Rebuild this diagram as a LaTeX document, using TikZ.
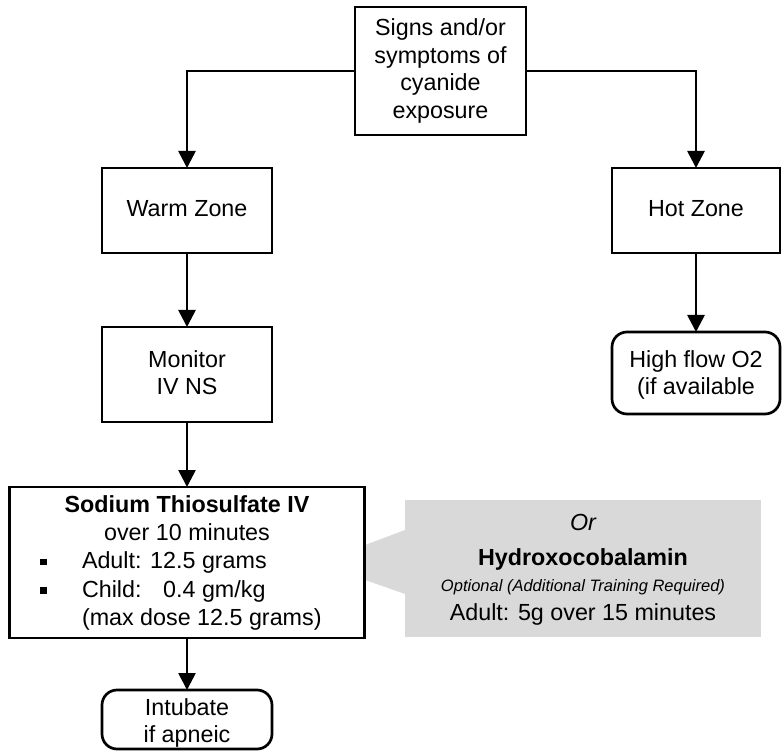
\documentclass[tikz,border=0pt]{standalone}
\usepackage{fontspec}
\setmainfont{Liberation Sans}
\usetikzlibrary{arrows.meta}
\definecolor{calloutgray}{RGB}{217,217,217}
\newcommand\flowfont{\fontsize{23.3pt}{28pt}\selectfont}
\newcommand\notefont{\fontsize{16.5pt}{20pt}\selectfont\itshape}
\begin{document}
\begin{tikzpicture}[x=1pt,y=-1pt,
  every node/.style={inner sep=0pt, outer sep=0pt},
  stepbox/.style={draw, line width=2.7pt, fill=white},
  endbox/.style={stepbox, rounded corners=15pt},
  txt/.style={anchor=base, font=\flowfont},
  ltxt/.style={anchor=base west, font=\flowfont},
  bullet/.style={fill=black, minimum size=6.5pt},
  conn/.style={line width=2.7pt, -{Triangle[length=17pt,width=17pt]}}]
\useasboundingbox (0,0) rectangle (782,751);

% alternative treatment callout (drawn first, the dosing box covers its tip)
\node[fill=calloutgray, minimum width=356pt, minimum height=137pt] (alt) at (583,568.5) {};
\fill[calloutgray] (405,530) -- (317,563) -- (405,594) -- cycle;

% boxes
\node[stepbox, minimum width=171pt, minimum height=128pt] (signs) at (440.5,71) {};
\node[stepbox, minimum width=170pt, minimum height=85pt] (warm) at (187,210.5) {};
\node[stepbox, minimum width=168pt, minimum height=85pt] (hot) at (696,210.5) {};
\node[stepbox, minimum width=170pt, minimum height=95pt] (monitor) at (187,374.5) {};
\node[endbox, minimum width=168pt, minimum height=82pt] (highflow) at (696,373) {};
\node[stepbox, minimum width=355pt, minimum height=151pt] (sodium) at (187,562.5) {};
\node[endbox, minimum width=170pt, minimum height=59pt] (intubate) at (187,719.5) {};

% connectors
\draw[conn] (signs.west) -| (warm.north);
\draw[conn] (signs.east) -| (hot.north);
\draw[conn] (warm.south) -- (monitor.north);
\draw[conn] (hot.south) -- (highflow.north);
\draw[conn] (monitor.south) -- (sodium.north);
\draw[conn] (sodium.south) -- (intubate.north);

% texts
\node[txt] (s1) at (440.5,36) {Signs and/or};
\node[txt] (s2) at (440.5,63.5) {symptoms of};
\node[txt] (s3) at (440.5,91) {cyanide};
\node[txt] (s4) at (440.5,118.5) {exposure};

\node[txt] (w1) at (187,217) {Warm Zone};
\node[txt] (h1) at (696,217) {Hot Zone};

\node[txt] (m1) at (187,367) {Monitor};
\node[txt] (m2) at (187,395) {IV NS};

\node[txt] (o1) at (696,367) {High flow O2};
\node[txt] (o2) at (696,395) {(if available};

\node[txt] (t1) at (187,512) {\bfseries Sodium Thiosulfate IV};
\node[txt] (t2) at (187,540) {over 10 minutes};
\node[bullet] (b1) at (43.5,562) {};
\node[ltxt] (t3) at (82,568) {Adult: 12.5 grams};
\node[bullet] (b2) at (43.5,590.5) {};
\node[ltxt] (t4) at (82,597) {Child:\hspace{13pt} 0.4 gm/kg};
\node[ltxt] (t5) at (82,625) {(max dose 12.5 grams)};

\node[txt] (a1) at (583,530) {\itshape Or};
\node[txt] (a2) at (583,565) {\bfseries Hydroxocobalamin};
\node[anchor=base, font=\notefont] (a3) at (583,591.5) {Optional (Additional Training Required)};
\node[txt] (a4) at (583,620) {Adult: 5g over 15 minutes};

\node[txt] (i1) at (187,715) {Intubate};
\node[txt] (i2) at (187,742) {if apneic};
\end{tikzpicture}
\end{document}
